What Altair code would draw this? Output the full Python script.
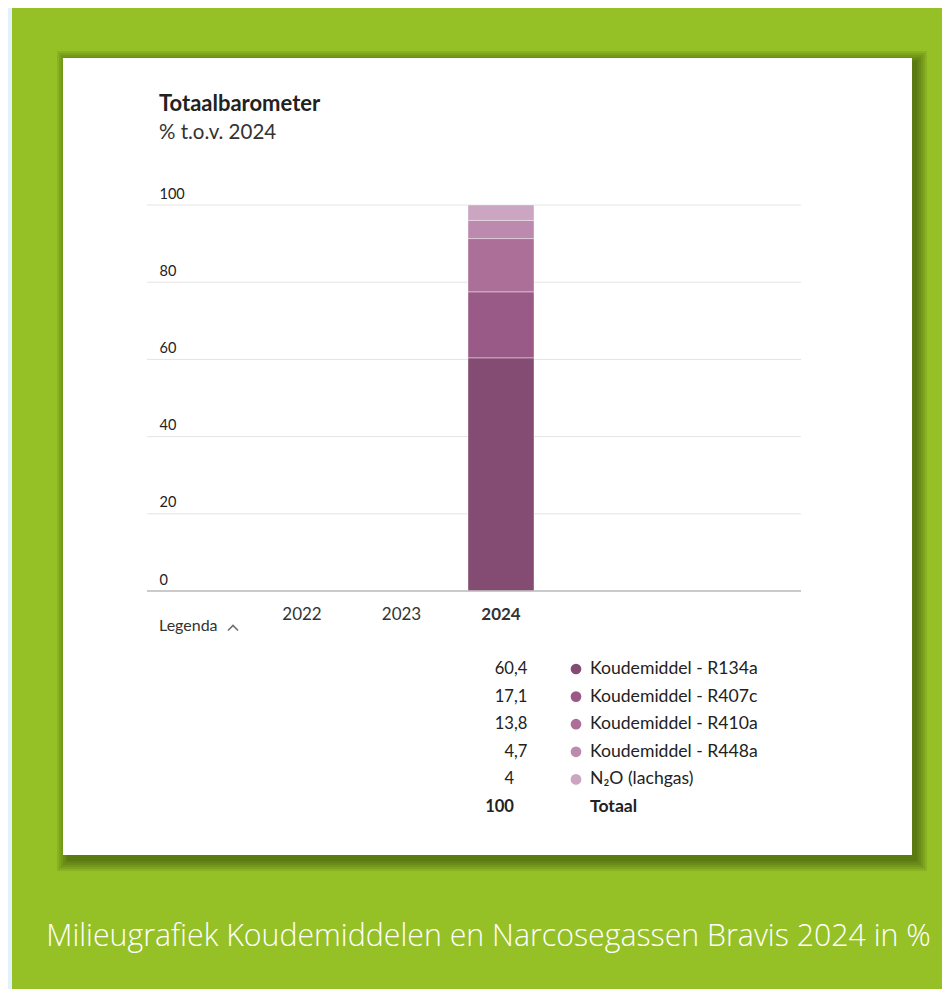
import altair as alt
import pandas as pd

# ---------------- data ----------------
years = ["2022", "2023", "2024"]
bar_year = "2024"
categories = [
    "Koudemiddel - R134a",
    "Koudemiddel - R407c",
    "Koudemiddel - R410a",
    "Koudemiddel - R448a",
    "N\u2082O (lachgas)",
]
values_2024 = [60.4, 17.1, 13.8, 4.7, 4.0]
value_labels = ["60,4", "17,1", "13,8", "4,7", "4"]
total_name = "Totaal"
total_label = "100"
colors = ["#844c73", "#9a5a87", "#ab6f98", "#bc8aae", "#cba5c1"]
y_ticks = [0, 20, 40, 60, 80, 100]
title_text = "Totaalbarometer"
subtitle_text = "% t.o.v. 2024"
legend_toggle = "Legenda"
caption_text = "Milieugrafiek Koudemiddelen en Narcosegassen Bravis 2024 in %"

# ---------------- layout ----------------
W, H = 654, 386                 # plot area
PAD = {"left": 139, "top": 197, "right": 141, "bottom": 398}
FONT = "Lato"
GREEN = "#96c126"
TXT = "#222222"

bars_df = pd.DataFrame({
    "year": [bar_year] * len(categories),
    "category": categories,
    "value": values_2024,
    "idx": list(range(len(categories))),
})
grid_df = pd.DataFrame({"tick": y_ticks})
base_df = pd.DataFrame({"tick": [y_ticks[0]]})
one = pd.DataFrame({"a": [0]})

color_scale = alt.Scale(domain=categories, range=colors)
y_scale = alt.Scale(domain=[0, 100], nice=False)
y_axis = alt.Axis(values=y_ticks, grid=False, domain=False, ticks=False, tickSize=0,
                  labelAlign="left", labelPadding=-12, labelBaseline="alphabetic",
                  labelOffset=-7, labelFontSize=14.5, labelColor=TXT, labelFont=FONT,
                  title=None, zindex=1)
x_scale = alt.Scale(domain=years, range=[105.25, 403.75], paddingInner=0.337, paddingOuter=0.1685)
x_axis = alt.Axis(title=None, ticks=False, tickSize=0, labelPadding=28, labelBaseline="alphabetic",
                  labelAngle=0, labelFontSize=17, labelFont=FONT, labelColor="#333333",
                  labelFontWeight={"condition": {"test": "datum.value == '2024'", "value": "bold"},
                                   "value": "normal"},
                  domain=False, zindex=1)


def rect(x, x2, y, y2, color, opacity=1.0):
    return alt.Chart(one).mark_rect(color=color, opacity=opacity).encode(
        x=alt.value(x), x2=alt.value(x2), y=alt.value(y), y2=alt.value(y2))


def text(t, x, y, size, weight="normal", color=TXT, align="left", font=FONT, baseline="alphabetic"):
    return alt.Chart(one).mark_text(text=t, fontSize=size, fontWeight=weight, color=color,
                                    align=align, baseline=baseline, font=font).encode(
        x=alt.value(x), y=alt.value(y))


layers = []
# light strip at the left edge
layers.append(rect(-139, -135, -197, 800, "#e2f1fb"))
# card shadow
for k in range(6):
    layers.append(rect(-84 + 4 - k * 2, 765 + 5 + k * 2, -147 + 3 - k * 2, 650 + 6 + k * 2,
                       "#1f3300", 0.1))
# white card
layers.append(rect(-84, 765, -147, 650, "white"))

# gridlines through the y scale
grid = alt.Chart(grid_df).mark_rule(color="#e4e4e4", strokeWidth=1).encode(
    y=alt.Y("tick:Q", scale=y_scale, axis=y_axis),
    x=alt.value(0), x2=alt.value(W))
layers.append(grid)

# stacked bar
bars = alt.Chart(bars_df).mark_bar(stroke="#ffffff", strokeOpacity=0.35, strokeWidth=1).encode(
    x=alt.X("year:N", scale=x_scale, axis=x_axis),
    y=alt.Y("value:Q", stack="zero", scale=y_scale, axis=y_axis),
    color=alt.Color("category:N", scale=color_scale, legend=None),
    order=alt.Order("idx:Q", sort="ascending"),
)
layers.append(bars)

# baseline across the full plot width
layers.append(alt.Chart(base_df).mark_rule(color="#bdbdbd", strokeWidth=1.5).encode(
    y=alt.Y("tick:Q", scale=y_scale, axis=y_axis),
    x=alt.value(0), x2=alt.value(W)))

# titles
layers.append(text(title_text, 12, -94, 22, "bold"))
layers.append(text(subtitle_text, 12, -66, 20.5, "normal", "#333333"))

# legend toggle
layers.append(text(legend_toggle, 12, 426, 16, "normal", "#333333"))
layers.append(alt.Chart(one).mark_point(shape="M-1,0.5L0,-0.5L1,0.5", filled=False, size=100,
                                        strokeWidth=1.6, color="#333333").encode(
    x=alt.value(86), y=alt.value(423)))

# legend table
ROW0, STEP = 464, 27.6
NS, LS = 16.6, 17.6
leg_df = pd.DataFrame({
    "row": list(range(len(categories))),
    "category": categories,
    "int": [s.split(",")[0] for s in value_labels],
    "frac": ["," + s.split(",")[1] if "," in s else "" for s in value_labels],
})
tot_df = pd.DataFrame({"row": [len(categories)], "name": [total_name],
                       "int": [total_label.split(",")[0]]})
ypix = alt.Y("py:Q", scale=None, axis=None)
base_leg = alt.Chart(leg_df).transform_calculate(py=f"{ROW0} + datum.row * {STEP}")
layers.append(base_leg.mark_text(align="right", baseline="middle", fontSize=NS, font=FONT, color=TXT)
              .encode(x=alt.value(367), y=ypix, text="int:N"))
layers.append(base_leg.mark_text(align="left", baseline="middle", fontSize=NS, font=FONT, color=TXT)
              .encode(x=alt.value(367), y=ypix, text="frac:N"))
layers.append(base_leg.mark_point(filled=True, size=115, opacity=1, shape="circle")
              .encode(x=alt.value(429), y=ypix,
                      color=alt.Color("category:N", scale=color_scale, legend=None)))
layers.append(base_leg.mark_text(align="left", baseline="middle", fontSize=LS, font=FONT, color=TXT)
              .encode(x=alt.value(443), y=ypix, text="category:N"))
base_tot = alt.Chart(tot_df).transform_calculate(py=f"{ROW0} + datum.row * {STEP}")
layers.append(base_tot.mark_text(align="right", baseline="middle", fontSize=NS, font=FONT,
                                 fontWeight="bold", color=TXT)
              .encode(x=alt.value(367), y=ypix, text="int:N"))
layers.append(base_tot.mark_text(align="left", baseline="middle", fontSize=LS, font=FONT,
                                 fontWeight="bold", color=TXT)
              .encode(x=alt.value(443), y=ypix, text="name:N"))

# caption
layers.append(text(caption_text, 341.5, 741, 30.3, 300, "white", "center", "Open Sans"))

chart = alt.layer(*layers).properties(
    width=W, height=H,
    autosize=alt.AutoSizeParams(type="none"),
    padding=PAD,
    background=GREEN,
).configure_view(stroke=None, fill=None)

chart.save("out.html", embed_options={"renderer": "svg", "actions": False})
